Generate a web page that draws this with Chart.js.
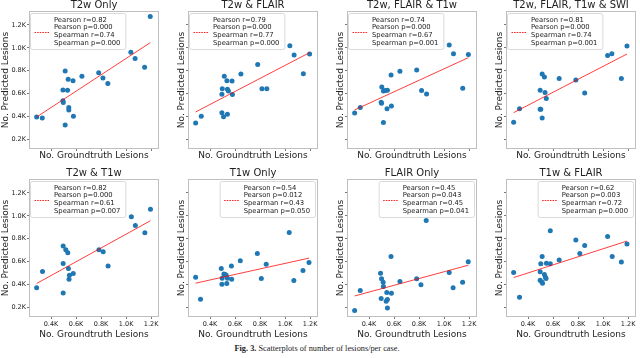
<!DOCTYPE html>
<html><head><meta charset="utf-8">
<script src="https://cdn.jsdelivr.net/npm/chart.js@4.4.0/dist/chart.umd.min.js"></script>
<style>
html,body{margin:0;padding:0;background:#fff;}
body{width:640px;height:358px;position:relative;overflow:hidden;}
canvas{position:absolute;}
#caption{position:absolute;left:0;width:634px;top:344px;text-align:center;font-family:"Liberation Serif",serif;font-size:8.3px;color:#222;white-space:nowrap;-webkit-font-smoothing:antialiased;}
</style></head><body>
<div id="caption"><b>Fig. 3.</b> Scatterplots of number of lesions/per case.</div>
<script>
// ---- data (lesion counts) ----
const titles = ["T2w Only", "T2w & FLAIR", "T2w, FLAIR & T1w", "T2w, FLAIR, T1w & SWI",
                "T2w & T1w", "T1w Only", "FLAIR Only", "T1w & FLAIR"];
const xTickValues = [400, 600, 800, 1000, 1200];
const xTickLabels = ["0.4K", "0.6K", "0.8K", "1.0K", "1.2K"];
const yTickValues = [200, 400, 600, 800, 1000, 1200];
const yTickLabels = ["0.2K", "0.4K", "0.6K", "0.8K", "1.0K", "1.2K"];
const xAxisTitle = "No. Groundtruth Lesions";
const yAxisTitle = "No. Predicted Lesions";

const t2wOnlyX = [285,330,495,495,498,513,513,532,537,542,542,576,579,647,781,815,854,1038,1072,1148,1193];
const t2wOnlyY = [395,387,631,538,521,798,325,629,725,477,457,713,401,751,783,736,687,961,906,830,1273];
const t2wOnlyFitX = [285,1193];
const t2wOnlyFitY = [395,1045];

const t2wFlairX = [285,330,495,508,539,495,498,514,535,539,547,576,579,647,781,815,854,1038,1072,1146,1196];
const t2wFlairY = [343,401,433,398,418,594,643,751,713,637,623,710,591,771,853,643,643,1019,938,774,946];
const t2wFlairFitX = [285,1196];
const t2wFlairFitY = [439,958];

const t2wFlairT1wX = [285,330,497,500,515,502,531,547,544,576,579,515,647,781,820,860,1041,1075,1149,1194];
const t2wFlairT1wY = [430,477,524,515,623,658,626,629,468,763,492,346,795,806,626,597,1025,949,646,941];
const t2wFlairT1wFitX = [285,1194];
const t2wFlairT1wFitY = [457,914];

const allFourX = [285,332,497,497,502,513,531,513,536,546,649,782,853,1036,1070,1146,1191];
const allFourY = [349,468,629,462,462,771,745,387,609,556,731,719,605,932,949,731,1016];
const allFourFitX = [285,1191];
const allFourFitY = [433,946];

const t2wT1wX = [285,332,497,518,534,497,539,578,547,544,497,783,817,856,1042,1074,1150,1195];
const t2wT1wY = [370,513,735,703,677,583,539,495,481,446,326,703,685,560,992,916,852,1057];
const t2wT1wFitX = [285,1195];
const t2wT1wFitY = [408,957];

const t1wOnlyX = [285,324,490,497,495,511,522,529,534,539,571,573,642,778,810,849,1033,1070,1143,1191];
const t1wOnlyY = [463,270,539,454,402,492,487,481,408,454,560,446,606,671,451,577,855,434,522,592];
const t1wOnlyFitX = [285,1191];
const t1wOnlyFitY = [411,630];

const flairOnlyX = [285,330,492,500,513,515,497,537,542,547,547,576,579,647,781,815,857,1041,1072,1148,1193];
const flairOnlyY = [171,346,498,449,419,381,276,253,329,268,194,644,323,425,449,396,960,504,370,419,598];
const flairOnlyFitX = [285,1193];
const flairOnlyFitY = [299,568];

const t1wFlairX = [285,332,497,502,513,497,510,516,531,539,544,547,578,578,649,782,814,853,1036,1073,1146,1191];
const t1wFlairY = [504,288,510,580,644,437,422,411,487,463,451,586,580,870,614,788,671,741,820,644,595,753];
const t1wFlairFitX = [285,1191];
const t1wFlairFitY = [460,779];

const pearsonR  = ["0.82","0.79","0.74","0.81","0.82","0.54","0.45","0.62"];
const pearsonP  = ["0.000","0.000","0.000","0.000","0.000","0.012","0.043","0.003"];
const spearmanR = ["0.74","0.77","0.67","0.74","0.61","0.43","0.45","0.72"];
const spearmanP = ["0.000","0.000","0.001","0.001","0.007","0.050","0.041","0.000"];

const seriesX = [t2wOnlyX, t2wFlairX, t2wFlairT1wX, allFourX, t2wT1wX, t1wOnlyX, flairOnlyX, t1wFlairX];
const seriesY = [t2wOnlyY, t2wFlairY, t2wFlairT1wY, allFourY, t2wT1wY, t1wOnlyY, flairOnlyY, t1wFlairY];
const fitX = [t2wOnlyFitX, t2wFlairFitX, t2wFlairT1wFitX, allFourFitX, t2wT1wFitX, t1wOnlyFitX, flairOnlyFitX, t1wFlairFitX];
const fitY = [t2wOnlyFitY, t2wFlairFitY, t2wFlairT1wFitY, allFourFitY, t2wT1wFitY, t1wOnlyFitY, flairOnlyFitY, t1wFlairFitY];

// ---- layout ----
const X_MIN = 224, X_MAX = 1263, Y_MIN = 115, Y_MAX = 1322;
const frameLefts = [29, 188, 347, 506];
const frameTops = [11, 179];
const FRAME_W = 132, FRAME_H = 138, TITLE_H = 11;

Chart.defaults.font.family = "'DejaVu Sans', sans-serif";
Chart.defaults.color = "#222";

const framePlugin = {
  id: 'frameBox',
  beforeDatasetsDraw(chart) {
    const {ctx, chartArea: a} = chart;
    ctx.save();
    ctx.strokeStyle = '#bfbfbf';
    ctx.lineWidth = 1;
    ctx.strokeRect(Math.round(a.left) + 0.5, Math.round(a.top) + 0.5,
                   Math.round(a.right - a.left) - 1, Math.round(a.bottom - a.top) - 1);
    ctx.restore();
  }
};

const statsLegend = {
  id: 'statsLegend',
  afterDatasetsDraw(chart, args, opts) {
    const {ctx, chartArea: a} = chart;
    ctx.save();
    ctx.font = "6.8px 'DejaVu Sans'";
    const tw = Math.max(...opts.lines.map(t => ctx.measureText(t).width));
    const w = tw + 29, h = 36;
    const x = opts.loc === 'left' ? a.left + 1.5 : a.right - 2.5 - w;
    const y = a.top + 2.5;
    ctx.beginPath();
    if (ctx.roundRect) ctx.roundRect(x, y, w, h, 2); else ctx.rect(x, y, w, h);
    ctx.fillStyle = 'rgba(255,255,255,0.85)';
    ctx.fill();
    ctx.strokeStyle = '#d0d0d0';
    ctx.lineWidth = 0.8;
    ctx.stroke();
    ctx.beginPath();
    ctx.setLineDash([1.6, 1]);
    ctx.moveTo(x + 4, y + h / 2 + 1);
    ctx.lineTo(x + 19, y + h / 2 + 1);
    ctx.strokeStyle = 'rgba(255,0,0,0.85)';
    ctx.lineWidth = 1;
    ctx.stroke();
    ctx.setLineDash([]);
    ctx.fillStyle = '#222';
    ctx.textBaseline = 'middle';
    opts.lines.forEach((t, i) => ctx.fillText(t, x + 23.5, y + 6.5 + i * 7.7));
    ctx.restore();
  }
};

for (let k = 0; k < 8; k++) {
  const row = Math.floor(k / 4), col = k % 4;
  const yW = col === 0 ? 29 : 12;
  const xH = row === 0 ? 12 : 23;
  const cv = document.createElement('canvas');
  const W = yW + FRAME_W + 2, H = TITLE_H + FRAME_H + xH;
  cv.width = W; cv.height = H;
  cv.style.left = (frameLefts[col] - yW) + 'px';
  cv.style.top = (frameTops[row] - TITLE_H) + 'px';
  cv.style.width = W + 'px'; cv.style.height = H + 'px';
  document.body.appendChild(cv);

  const pts = seriesX[k].map((x, i) => ({x: x, y: seriesY[k][i]}));
  const fit = fitX[k].map((x, i) => ({x: x, y: fitY[k][i]}));

  new Chart(cv, {
    type: 'scatter',
    data: {
      datasets: [
        {data: fit, showLine: true, pointRadius: 0, borderColor: 'rgba(255,0,0,0.85)',
         borderWidth: 0.9, order: 0},
        {data: pts, backgroundColor: '#1f77b4', borderWidth: 0, pointRadius: 2.5, order: 1}
      ]
    },
    options: {
      responsive: false, animation: false, events: [],
      layout: {padding: {left: 0, right: 2, top: 0, bottom: 0}},
      plugins: {
        legend: {display: false},
        tooltip: {enabled: false},
        title: {display: true, text: titles[k], fullSize: false, padding: 0,
                font: {size: 10, lineHeight: 1.1, weight: 'normal'}, color: '#222'},
        statsLegend: {
          loc: (row === 0 || col === 0) ? 'left' : 'right',
          lines: ["Pearson r=" + pearsonR[k], "Pearson p=" + pearsonP[k],
                  "Spearman r=" + spearmanR[k], "Spearman p=" + spearmanP[k]]
        }
      },
      scales: {
        x: {
          type: 'linear', min: X_MIN, max: X_MAX, bounds: 'data',
          afterBuildTicks: s => { s.ticks = xTickValues.map(v => ({value: v})); },
          afterFit: s => { s.height = xH; },
          ticks: {display: row === 1, callback: (v, i) => xTickLabels[i],
                  font: {size: 6.5}, color: '#222', padding: 1, maxRotation: 0, autoSkip: false},
          grid: {display: true, drawOnChartArea: false, drawTicks: true, tickLength: 2, color: '#777'},
          border: {display: false},
          title: {display: true, text: xAxisTitle, font: {size: 9, lineHeight: 1.2}, color: '#222', padding: 0}
        },
        y: {
          type: 'linear', min: Y_MIN, max: Y_MAX, bounds: 'data',
          afterBuildTicks: s => { s.ticks = yTickValues.map(v => ({value: v})); },
          afterFit: s => { s.width = yW; },
          ticks: {display: col === 0, callback: (v, i) => yTickLabels[i],
                  font: {size: 6.5}, color: '#222', padding: 1, autoSkip: false},
          grid: {display: true, drawOnChartArea: false, drawTicks: true, tickLength: 2, color: '#777'},
          border: {display: false},
          title: {display: true, text: yAxisTitle, font: {size: 9, lineHeight: 1.2}, color: '#222', padding: 0}
        }
      }
    },
    plugins: [framePlugin, statsLegend]
  });
}
</script>
</body></html>
